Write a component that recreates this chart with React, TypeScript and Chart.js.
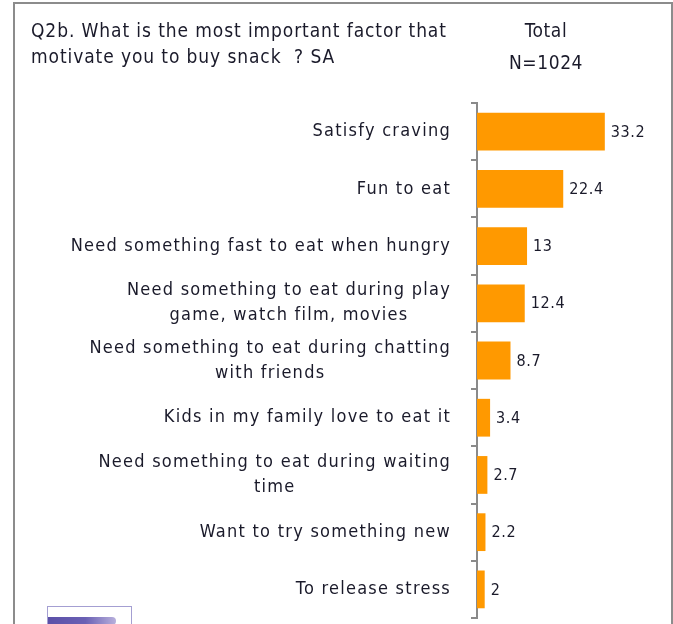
import React, { useEffect, useRef } from "react";
import { Chart, registerables } from "chart.js";

Chart.register(...registerables);

const titleLines = [
  "Q2b. What is the most important factor that",
  "motivate you to buy snack  ? SA",
];
const headerLines = ["Total", "N=1024"];

const categories: string[][] = [
  ["Satisfy craving"],
  ["Fun to eat"],
  ["Need something fast to eat when hungry"],
  ["Need something to eat during play", "game, watch film, movies"],
  ["Need something to eat during chatting", "with friends"],
  ["Kids in my family love to eat it"],
  ["Need something to eat during waiting", "time"],
  ["Want to try something new"],
  ["To release stress"],
];
const values = [33.2, 22.4, 13, 12.4, 8.7, 3.4, 2.7, 2.2, 2];
const valueLabels = ["33.2", "22.4", "13", "12.4", "8.7", "3.4", "2.7", "2.2", "2"];

const FAMILY = '"DejaVu Sans Condensed", "DejaVu Sans", sans-serif';
const LABEL_FONT = "18px " + FAMILY;
const VALUE_FONT = "16px " + FAMILY;
const TEXT_COLOR = "#1a1a2a";

const labelPlugin = {
  id: "customLabels",
  afterDatasetsDraw(chart: any) {
    const ctx = chart.ctx;
    const yScale = chart.scales.y;
    const meta = chart.getDatasetMeta(0);
    ctx.save();
    ctx.fillStyle = TEXT_COLOR;
    ctx.textBaseline = "middle";
    // category labels
    ctx.font = LABEL_FONT;
    (ctx as any).letterSpacing = "1.25px";
    ctx.textAlign = "center";
    const rightEdge = yScale.right - 26;
    const lineH = 25;
    categories.forEach((lines, i) => {
      const cy = yScale.getPixelForValue(i);
      const maxW = Math.max(...lines.map((l) => ctx.measureText(l).width));
      const cx = rightEdge - maxW / 2;
      const startY = cy - ((lines.length - 1) * lineH) / 2;
      lines.forEach((l, j) => ctx.fillText(l, cx, startY + j * lineH));
    });
    // value labels
    ctx.font = VALUE_FONT;
    (ctx as any).letterSpacing = "0.6px";
    ctx.textAlign = "left";
    meta.data.forEach((bar: any, i: number) => {
      ctx.fillText(valueLabels[i], bar.x + 6, bar.y + 1);
    });
    ctx.restore();
  },
};

export default function App() {
  const ref = useRef<HTMLCanvasElement>(null);
  useEffect(() => {
    if (!ref.current) return;
    const chart = new Chart(ref.current, {
      type: "bar",
      data: {
        labels: categories.map((c) => c.join(" ")),
        datasets: [
          {
            data: values,
            backgroundColor: "#FF9900",
            borderWidth: 0,
            barPercentage: 0.66,
            categoryPercentage: 1,
          },
        ],
      },
      options: {
        indexAxis: "y",
        animation: false,
        responsive: false,
        maintainAspectRatio: false,
        layout: { padding: { top: 103, bottom: 6, right: 42, left: 0 } },
        plugins: { legend: { display: false }, tooltip: { enabled: false } },
        scales: {
          x: { display: false, min: 0, max: 40 },
          y: {
            afterFit(scale: any) {
              scale.width = 477;
            },
            ticks: { display: false },
            grid: {
              offset: true,
              drawOnChartArea: false,
              drawTicks: true,
              tickLength: 6,
              color: "#8a8a8a",
              lineWidth: 2,
            },
            border: { display: true, color: "#8a8a8a", width: 2 },
          },
        },
      },
      plugins: [labelPlugin],
    });
    return () => chart.destroy();
  }, []);

  return (
    <div
      style={{
        position: "fixed",
        left: 0,
        top: 0,
        width: 673,
        height: 624,
        background: "#fff",
        overflow: "hidden",
        fontFamily: FAMILY,
        color: TEXT_COLOR,
      }}
    >
      <div
        style={{
          position: "absolute",
          left: 13,
          top: 2,
          width: 660,
          height: 700,
          border: "2px solid #8c8c8c",
          boxSizing: "border-box",
        }}
      />
      <canvas
        ref={ref}
        width={673}
        height={624}
        style={{ position: "absolute", left: 0, top: 0 }}
      />
      <div
        style={{
          position: "absolute",
          left: 31,
          top: 17,
          fontSize: 19,
          lineHeight: "26px",
          letterSpacing: "0.9px",
          whiteSpace: "pre",
        }}
      >
        {titleLines.map((t, i) => (
          <div key={i}>{t}</div>
        ))}
      </div>
      <div
        style={{
          position: "absolute",
          left: 496,
          top: 14,
          width: 100,
          textAlign: "center",
          fontSize: 19,
          lineHeight: "32px",
          letterSpacing: "0.6px",
        }}
      >
        {headerLines.map((t, i) => (
          <div key={i}>{t}</div>
        ))}
      </div>
      <div
        style={{
          position: "absolute",
          left: 47,
          top: 606,
          width: 85,
          height: 30,
          border: "1px solid #a49fd2",
          boxSizing: "border-box",
        }}
      />
      <div
        style={{
          position: "absolute",
          left: 48,
          top: 617,
          width: 68,
          height: 8,
          borderRadius: "0 4px 4px 0",
          background: "linear-gradient(to right, #5b50a8 0%, #6a60b4 55%, #b8b0dc 100%)",
        }}
      />
    </div>
  );
}
